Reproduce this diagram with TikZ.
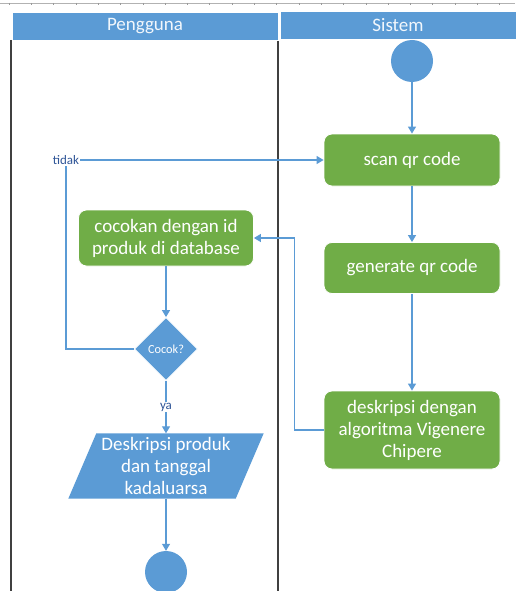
\documentclass[tikz,border=0pt]{standalone}
\usepackage{fontspec}
\setmainfont{Carlito}
\usetikzlibrary{shapes.geometric,arrows.meta}
\definecolor{hblue}{HTML}{5B9BD5}
\definecolor{bgreen}{HTML}{70AD47}
\definecolor{lane}{HTML}{404040}
\definecolor{lbl}{HTML}{2F5597}
\begin{document}
\begin{tikzpicture}[x=1pt,y=-1pt,
  flow/.style={draw=hblue,line width=1.2pt,-{Triangle[width=8pt,length=7pt]}},
  link/.style={draw=hblue,line width=1.2pt},
  big/.style={font=\fontsize{19}{22}\selectfont},
  gbox/.style={fill=bgreen,draw=white,line width=0.8pt,rounded corners=8pt,text=white,align=center,
     big,inner sep=0pt},
  hdr/.style={fill=hblue,draw=white,line width=0.8pt,text=white!92!hblue,big,inner sep=0pt},
  dot/.style={circle,fill=hblue,minimum size=42pt,inner sep=0pt},
  small/.style={text=lbl,font=\fontsize{13}{15}\selectfont,inner sep=1pt}]
\useasboundingbox (0,0) rectangle (515,591);
% ruler
\draw[gray!60,line width=1pt] (0,4) -- (515,4);
\foreach \i in {0,...,23} {\draw[gray!80,line width=0.6pt] (9+22.3*\i,3) -- (9+22.3*\i,5);}
% lanes
\draw[lane,line width=1.5pt] (11,40) -- (11,591);
\draw[lane,line width=1.5pt] (278,40) -- (278,591);
\node[hdr,minimum width=266pt,minimum height=28pt] (hp) at (145,26) {Pengguna};
\node[hdr,minimum width=236pt,minimum height=28pt] (hs) at (398,25) {Sistem};
% nodes
\node[dot] (start) at (412,61) {};
\node[gbox,minimum width=176pt,minimum height=52pt] (scan) at (412,160) {scan qr code};
\node[gbox,minimum width=176pt,minimum height=51pt] (gen) at (412,268) {generate qr code};
\node[gbox,minimum width=176pt,minimum height=78pt] (desk) at (412,430) {deskripsi dengan\\algoritma Vigenere\\Chipere};
\node[gbox,minimum width=175pt,minimum height=56pt] (cocokan) at (166,238) {cocokan dengan id\\produk di database};
\node[diamond,fill=hblue,draw=white,line width=0.8pt,minimum width=63pt,minimum height=63pt,inner sep=0pt,
      text=white,font=\fontsize{12.3}{14}\selectfont] (cocok) at (166,349) {Cocok?};
\node[inner sep=0pt,minimum width=195pt,minimum height=65pt] (outbox) at (166,466) {};
\fill[hblue] ([xshift=28pt]outbox.north west) -- (outbox.north east) -- ([xshift=-28pt]outbox.south east) -- (outbox.south west) -- cycle;
\node[text=white,align=center,big,inner sep=0pt] (out) at (outbox.center) {Deskripsi produk\\dan tanggal\\kadaluarsa};
\node[dot] (end) at (166,572) {};
\node[small] (tidak) at (66,160) {tidak};
% connectors
\draw[flow] (start) -- (scan);
\draw[flow] (scan) -- (gen);
\draw[flow] (gen) -- (desk);
\draw[flow] (desk.west) -- ++(-29,0) |- (cocokan.east);
\draw[flow] (cocokan) -- (cocok);
\draw[link] (cocok.west) -| (tidak.south);
\draw[flow] (tidak.east) -- (scan.west);
\draw[flow] (cocok.south) -- node[small,fill=white,pos=0.5] (ya) {ya} (outbox.north);
\draw[flow] (outbox.south) -- (end);
\end{tikzpicture}
\end{document}
